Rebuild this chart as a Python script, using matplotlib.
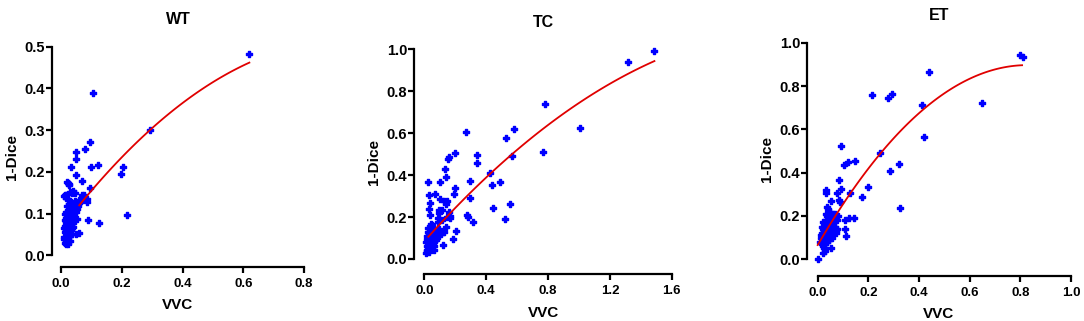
import numpy as np
import matplotlib
matplotlib.use("Agg")
import matplotlib.pyplot as plt

plt.rcParams["font.family"] = ["Liberation Sans", "DejaVu Sans"]
plt.rcParams["font.weight"] = "bold"

# ----- WT -----
wt_x = [0.618, 0.106, 0.294, 0.097, 0.079, 0.049, 0.048, 0.034, 0.098, 0.121,
        0.203, 0.198, 0.049, 0.069, 0.021, 0.026, 0.097, 0.218, 0.124, 0.088,
        0.085, 0.070, 0.011, 0.015, 0.030, 0.041, 0.046, 0.063, 0.047, 0.053,
        0.060, 0.050, 0.023, 0.027, 0.014, 0.036, 0.075, 0.016, 0.058, 0.086,
        0.012, 0.015, 0.018, 0.010, 0.020, 0.022, 0.014, 0.016, 0.025, 0.028,
        0.011, 0.013, 0.019, 0.021, 0.024, 0.030, 0.017, 0.012, 0.015, 0.026,
        0.032, 0.035, 0.038, 0.029, 0.023, 0.018, 0.014, 0.040, 0.043, 0.036,
        0.045, 0.048, 0.027, 0.031, 0.020, 0.016, 0.013, 0.010, 0.034, 0.039,
        0.042, 0.050, 0.055, 0.047, 0.033, 0.026, 0.022, 0.019, 0.037, 0.044,
        0.058, 0.052, 0.041, 0.028, 0.024, 0.015, 0.017, 0.021, 0.030, 0.036]
wt_y = [0.482, 0.388, 0.300, 0.272, 0.255, 0.247, 0.230, 0.211, 0.211, 0.217,
        0.211, 0.194, 0.193, 0.178, 0.176, 0.172, 0.162, 0.097, 0.078, 0.085,
        0.136, 0.144, 0.141, 0.144, 0.151, 0.154, 0.150, 0.129, 0.113, 0.086,
        0.053, 0.050, 0.174, 0.168, 0.145, 0.149, 0.145, 0.137, 0.133, 0.128,
        0.030, 0.035, 0.028, 0.045, 0.040, 0.050, 0.055, 0.060, 0.048, 0.052,
        0.065, 0.070, 0.075, 0.062, 0.068, 0.058, 0.080, 0.085, 0.090, 0.078,
        0.072, 0.066, 0.088, 0.095, 0.100, 0.105, 0.098, 0.110, 0.102, 0.115,
        0.120, 0.125, 0.108, 0.082, 0.092, 0.073, 0.042, 0.038, 0.060, 0.078,
        0.092, 0.105, 0.118, 0.130, 0.128, 0.122, 0.135, 0.118, 0.098, 0.085,
        0.125, 0.112, 0.068, 0.034, 0.026, 0.082, 0.064, 0.056, 0.046, 0.052]

# ----- TC -----
tc_x = [1.486, 1.315, 0.781, 1.007, 0.766, 0.582, 0.526, 0.569, 0.554, 0.524,
        0.442, 0.440, 0.425, 0.492, 0.339, 0.339, 0.272, 0.293, 0.295, 0.317,
        0.278, 0.282, 0.196, 0.162, 0.151, 0.136, 0.140, 0.198, 0.192, 0.207,
        0.185, 0.104, 0.032, 0.069, 0.022, 0.039, 0.030, 0.034, 0.101, 0.129,
        0.149, 0.138, 0.097, 0.116, 0.095, 0.157, 0.166, 0.144, 0.166, 0.121,
        0.140, 0.129, 0.086, 0.088, 0.112,
        0.012, 0.015, 0.020, 0.018, 0.025, 0.030, 0.022, 0.035, 0.040, 0.028,
        0.045, 0.050, 0.038, 0.055, 0.060, 0.033, 0.016, 0.024, 0.042, 0.065,
        0.070, 0.075, 0.080, 0.085, 0.052, 0.048, 0.026, 0.090, 0.100, 0.058,
        0.062, 0.036, 0.020, 0.014, 0.068, 0.078, 0.095, 0.110, 0.044, 0.030]
tc_y = [0.994, 0.938, 0.739, 0.623, 0.509, 0.618, 0.576, 0.491, 0.262, 0.189,
        0.242, 0.353, 0.409, 0.369, 0.496, 0.456, 0.606, 0.372, 0.293, 0.175,
        0.210, 0.200, 0.507, 0.485, 0.475, 0.428, 0.390, 0.340, 0.308, 0.135,
        0.097, 0.369, 0.304, 0.312, 0.366, 0.266, 0.237, 0.210, 0.285, 0.275,
        0.277, 0.262, 0.234, 0.232, 0.218, 0.223, 0.205, 0.202, 0.194, 0.065,
        0.154, 0.130, 0.178, 0.197, 0.186,
        0.030, 0.045, 0.040, 0.060, 0.055, 0.070, 0.085, 0.065, 0.080, 0.100,
        0.090, 0.075, 0.110, 0.095, 0.060, 0.120, 0.095, 0.130, 0.140, 0.085,
        0.105, 0.120, 0.100, 0.140, 0.150, 0.160, 0.150, 0.115, 0.130, 0.070,
        0.045, 0.050, 0.110, 0.080, 0.135, 0.090, 0.145, 0.120, 0.165, 0.035]

# ----- ET -----
et_x = [0.799, 0.811, 0.441, 0.650, 0.412, 0.420, 0.295, 0.278, 0.216, 0.247,
        0.321, 0.286, 0.326, 0.197, 0.176, 0.146, 0.118, 0.103, 0.092, 0.086,
        0.092, 0.078, 0.084, 0.088, 0.126, 0.053, 0.034, 0.034, 0.142, 0.124,
        0.107, 0.108, 0.111, 0.053, 0.000, 0.020,
        0.010, 0.015, 0.020, 0.018, 0.025, 0.022, 0.030, 0.028, 0.035, 0.032,
        0.040, 0.038, 0.045, 0.042, 0.050, 0.048, 0.055, 0.052, 0.060, 0.058,
        0.065, 0.062, 0.070, 0.068, 0.075, 0.072, 0.080, 0.078, 0.012, 0.024,
        0.036, 0.044, 0.056, 0.066, 0.074, 0.028, 0.034, 0.046, 0.054, 0.064,
        0.020, 0.026, 0.040, 0.050, 0.060, 0.070, 0.030, 0.016, 0.038, 0.058]
et_y = [0.942, 0.932, 0.865, 0.720, 0.711, 0.565, 0.762, 0.746, 0.758, 0.489,
        0.438, 0.406, 0.235, 0.332, 0.289, 0.454, 0.451, 0.435, 0.525, 0.366,
        0.325, 0.308, 0.274, 0.266, 0.308, 0.269, 0.320, 0.305, 0.189, 0.189,
        0.182, 0.140, 0.108, 0.051, 0.000, 0.028,
        0.080, 0.100, 0.060, 0.120, 0.090, 0.140, 0.110, 0.160, 0.130, 0.180,
        0.100, 0.200, 0.150, 0.120, 0.170, 0.220, 0.140, 0.190, 0.120, 0.160,
        0.200, 0.130, 0.150, 0.210, 0.180, 0.120, 0.200, 0.140, 0.110, 0.050,
        0.240, 0.180, 0.100, 0.170, 0.130, 0.070, 0.210, 0.090, 0.160, 0.190,
        0.170, 0.130, 0.230, 0.110, 0.210, 0.190, 0.040, 0.150, 0.080, 0.180]

# quadratic fit curves: (a, b, c) for a + b*x + c*x^2, and x range
fits = {
    "WT": ((0.0647, 0.951, -0.5006), (0.06, 0.62)),
    "TC": ((0.0846, 0.8272, -0.1678), (0.026, 1.488)),
    "ET": ((0.066, 2.006, -1.2113), (0.0, 0.807)),
}

panels = [
    ("WT", wt_x, wt_y, [0.0477, 0.1682, 0.2328, 0.6863], (-0.0306, 0.8), (-0.028, 0.5),
     [0.0, 0.2, 0.4, 0.6, 0.8], [0.0, 0.1, 0.2, 0.3, 0.4, 0.5]),
    ("TC", tc_x, tc_y, [0.3822, 0.1455, 0.2375, 0.7009], (-0.0647, 1.6), (-0.073, 1.0),
     [0.0, 0.4, 0.8, 1.2, 1.6], [0.0, 0.2, 0.4, 0.6, 0.8, 1.0]),
    ("ET", et_x, et_y, [0.7445, 0.1402, 0.2435, 0.7268], (-0.042, 1.0), (-0.077, 1.0),
     [0.0, 0.2, 0.4, 0.6, 0.8, 1.0], [0.0, 0.2, 0.4, 0.6, 0.8, 1.0]),
]

fig = plt.figure(figsize=(10.84, 3.21), dpi=100)

for name, xs, ys, rect, xlim, ylim, xt, yt in panels:
    ax = fig.add_axes(rect)
    # chunky filled plus, close to the Prism diamond-cross marker
    ax.scatter(xs, ys, marker="P", s=20, color="#0000ff", edgecolors="#0000ff",
               linewidths=1.0, zorder=3, clip_on=False)
    (a, b, c), (x0, x1) = fits[name]
    fx = np.linspace(x0, x1, 100)
    ax.plot(fx, a + b * fx + c * fx ** 2, color="#e00000", lw=1.3, zorder=4)

    ax.set_xlim(*xlim)
    ax.set_ylim(*ylim)
    ax.set_xticks(xt)
    ax.set_yticks(yt)
    ax.set_xticklabels([f"{v:.1f}" for v in xt], fontsize=9.5, fontweight="bold")
    ax.set_yticklabels([f"{v:.1f}" for v in yt], fontsize=10.5, fontweight="bold")
    ax.spines["top"].set_visible(False)
    ax.spines["right"].set_visible(False)
    ax.spines["bottom"].set_bounds(xt[0], xt[-1])
    ax.spines["left"].set_bounds(yt[0], yt[-1])
    for s in ("bottom", "left"):
        ax.spines[s].set_linewidth(1.6)
    ax.tick_params(axis="x", length=4, width=1.6, pad=4)
    ax.tick_params(axis="y", length=4, width=1.6, pad=1)

    ax.set_title(name, fontsize=11.5, fontweight="bold", pad=16)
    ax.set_xlabel("VVC", fontsize=11, fontweight="bold", labelpad=6)
    ax.set_ylabel("1-Dice", fontsize=11, fontweight="bold", labelpad=4)

fig.savefig("out.png", dpi=100)
